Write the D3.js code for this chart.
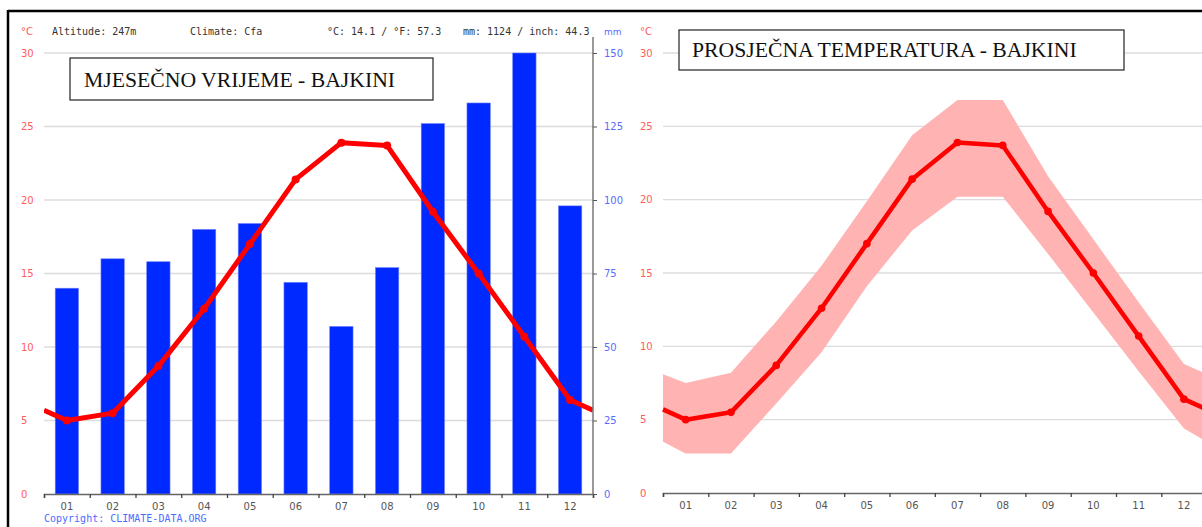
<!DOCTYPE html>
<html>
<head>
  <meta charset="utf-8" />
  <title>Bajkini</title>
  <script src="https://d3js.org/d3.v7.min.js"></script>
  <style>
    body { margin: 0; background: #fff; }
    svg { display: block; }
  </style>
</head>
<body>
  <script>
    // podaci očitani s grafa
    const months = ["01", "02", "03", "04", "05", "06", "07", "08", "09", "10", "11", "12"];
    const precip = [70, 80, 79, 90, 92, 72, 57, 77, 126, 133, 150, 98];
    const temp = [5.0, 5.5, 8.7, 12.6, 17.0, 21.4, 23.9, 23.7, 19.2, 15.0, 10.7, 6.4];
    const tempHigh = [7.5, 8.2, 11.7, 15.5, 19.9, 24.4, 26.8, 26.8, 21.6, 17.3, 13.0, 8.8];
    const tempLow = [2.7, 2.7, 6.1, 9.6, 14.1, 17.9, 20.2, 20.2, 16.3, 12.3, 8.3, 4.4];
    // vrijednosti na rubovima (prosinac/siječanj)
    const edgeTemp = 5.7, edgeHigh = 8.1, edgeLow = 3.5;
    const tempTicks = [0, 5, 10, 15, 20, 25, 30];
    const precipTicks = [0, 25, 50, 75, 100, 125, 150];
    const headerTexts = ["Altitude: 247m", "Climate: Cfa", "°C: 14.1 / °F: 57.3", "mm: 1124 / inch: 44.3"];
    const title1 = "MJESEČNO VRIJEME - BAJKINI";
    const title2 = "PROSJEČNA TEMPERATURA - BAJKINI";

    const width = 1202, height = 527;
    const svg = d3.select("body").append("svg")
      .attr("width", width)
      .attr("height", height);

    const tickFont = "DejaVu Sans, Verdana, sans-serif";
    const monoFont = "DejaVu Sans Mono, monospace";

    // pomoćna funkcija za liniju s rubnim točkama
    function edgeSeries(vals, edge, xs, x0, x1) {
      let arr = [{ x: x0, v: edge }];
      vals.forEach((v, i) => arr.push({ x: xs(months[i]) + xs.bandwidth() / 2, v: v }));
      arr.push({ x: x1, v: edge });
      return arr;
    }

    // ---------- lijevi graf ----------
    const L = { x0: 44, x1: 593, y0: 494, y1: 53 };
    const xL = d3.scaleBand().domain(months).range([L.x0, L.x1]);
    const yT = d3.scaleLinear().domain([0, 30]).range([L.y0, L.y1]);
    const yP = d3.scaleLinear().domain([0, 150]).range([L.y0, L.y1]);

    const gL = svg.append("g");
    gL.selectAll("line.grid")
      .data(tempTicks.slice(1))
      .enter().append("line")
      .attr("class", "grid")
      .attr("x1", L.x0).attr("x2", L.x1)
      .attr("y1", d => yT(d)).attr("y2", d => yT(d))
      .style("stroke", "#dcdcdc").style("stroke-width", 1.3);

    gL.selectAll("rect.bar")
      .data(precip)
      .enter().append("rect")
      .attr("class", "bar")
      .attr("x", (d, i) => xL(months[i]) + xL.bandwidth() * 0.245)
      .attr("width", xL.bandwidth() * 0.51)
      .attr("y", d => yP(d))
      .attr("height", d => L.y0 - yP(d))
      .attr("fill", "#0029ff")
      .style("stroke", "#6f80ff").style("stroke-width", 0.6);

    const clipL = svg.append("clipPath").attr("id", "clipL");
    clipL.append("rect").attr("x", L.x0).attr("y", 0).attr("width", L.x1 - L.x0).attr("height", height);

    const tempL = edgeSeries(temp, edgeTemp, xL, L.x0, L.x1);
    const lineL = d3.line().x(d => d.x).y(d => yT(d.v));
    gL.append("path")
      .datum(tempL)
      .attr("d", lineL)
      .attr("clip-path", "url(#clipL)")
      .style("fill", "none").style("stroke", "#ff0000")
      .style("stroke-width", 5).style("stroke-linejoin", "round");
    gL.selectAll("circle.pt")
      .data(temp)
      .enter().append("circle")
      .attr("class", "pt")
      .attr("cx", (d, i) => xL(months[i]) + xL.bandwidth() / 2)
      .attr("cy", d => yT(d))
      .attr("r", 4)
      .attr("fill", "#ff0000");

    // osi lijevog grafa
    const axL = gL.append("g")
      .attr("transform", `translate(0, ${L.y0})`)
      .call(d3.axisBottom(d3.scaleLinear().domain([0, 12]).range([L.x0, L.x1]))
        .ticks(12).tickSize(4).tickSizeOuter(4).tickFormat(""));
    axL.select(".domain").style("stroke", "#666").style("stroke-width", 1.5);
    axL.selectAll(".tick line").style("stroke", "#444").style("stroke-width", 1.3);

    const labL = gL.append("g")
      .attr("transform", `translate(0, ${L.y0})`)
      .call(d3.axisBottom(xL).tickSize(0).tickPadding(9));
    labL.select(".domain").remove();
    labL.selectAll("text").style("font-family", tickFont).style("font-size", "10px").style("fill", "#555");

    const tL = gL.append("g")
      .attr("transform", "translate(21, 0)")
      .call(d3.axisRight(yT).tickValues(tempTicks).tickSize(0).tickPadding(0));
    tL.select(".domain").remove();
    tL.selectAll("text").style("font-family", tickFont).style("font-size", "10px").style("fill", "#ff5c5c");

    gL.append("line")
      .attr("x1", L.x1).attr("x2", L.x1).attr("y1", 37).attr("y2", L.y0)
      .style("stroke", "#777").style("stroke-width", 1.5);
    const pR = gL.append("g")
      .attr("transform", `translate(${L.x1}, 0)`)
      .call(d3.axisRight(yP).tickValues(precipTicks).tickSize(4).tickPadding(7));
    pR.select(".domain").remove();
    pR.selectAll(".tick line").style("stroke", "#555");
    pR.selectAll("text").style("font-family", tickFont).style("font-size", "10px").style("fill", "#5c6bff");

    gL.append("text").attr("x", 21).attr("y", 35).text("°C")
      .style("font-family", tickFont).style("font-size", "10px").style("fill", "#ff5c5c");
    gL.append("text").attr("x", 604).attr("y", 35).text("mm")
      .style("font-family", tickFont).style("font-size", "9px").style("fill", "#5c6bff");

    const headerX = [52, 190, 327, 463];
    gL.selectAll("text.hdr")
      .data(headerTexts)
      .enter().append("text")
      .attr("class", "hdr")
      .attr("x", (d, i) => headerX[i]).attr("y", 35)
      .text(d => d)
      .style("font-family", monoFont).style("font-size", "10px").style("fill", "#333");

    gL.append("text").attr("x", 44).attr("y", 522).text("Copyright: CLIMATE-DATA.ORG")
      .style("font-family", monoFont).style("font-size", "10px").style("fill", "#4d6bff");

    // ---------- desni graf ----------
    const R = { x0: 663, bw: 45.3, y0: 493, y1: 53 };
    R.x1 = R.x0 + 12 * R.bw;
    const xR = d3.scaleBand().domain(months).range([R.x0, R.x1]);
    const yR = d3.scaleLinear().domain([0, 30]).range([R.y0, R.y1]);

    const gR = svg.append("g");
    gR.selectAll("line.grid")
      .data(tempTicks.slice(1))
      .enter().append("line")
      .attr("class", "grid")
      .attr("x1", R.x0).attr("x2", R.x1)
      .attr("y1", d => yR(d)).attr("y2", d => yR(d))
      .style("stroke", "#dcdcdc").style("stroke-width", 1.3);

    const hi = edgeSeries(tempHigh, edgeHigh, xR, R.x0, R.x1);
    const lo = edgeSeries(tempLow, edgeLow, xR, R.x0, R.x1);
    const bandData = hi.map((d, i) => ({ x: d.x, h: d.v, l: lo[i].v }));
    gR.append("path")
      .datum(bandData)
      .attr("d", d3.area().x(d => d.x).y0(d => yR(d.l)).y1(d => yR(d.h)))
      .style("fill", "#ffb3b3");

    const tempR = edgeSeries(temp, edgeTemp, xR, R.x0, R.x1);
    gR.append("path")
      .datum(tempR)
      .attr("d", d3.line().x(d => d.x).y(d => yR(d.v)))
      .style("fill", "none").style("stroke", "#ff0000")
      .style("stroke-width", 4.5).style("stroke-linejoin", "round");
    gR.selectAll("circle.pt")
      .data(temp)
      .enter().append("circle")
      .attr("class", "pt")
      .attr("cx", (d, i) => xR(months[i]) + xR.bandwidth() / 2)
      .attr("cy", d => yR(d))
      .attr("r", 3.8)
      .attr("fill", "#ff0000");

    const axR = gR.append("g")
      .attr("transform", `translate(0, ${R.y0})`)
      .call(d3.axisBottom(d3.scaleLinear().domain([0, 12]).range([R.x0, R.x1]))
        .ticks(12).tickSize(4).tickSizeOuter(4).tickFormat(""));
    axR.select(".domain").style("stroke", "#666").style("stroke-width", 1.5);
    axR.selectAll(".tick line").style("stroke", "#444").style("stroke-width", 1.3);

    const labR = gR.append("g")
      .attr("transform", `translate(0, ${R.y0})`)
      .call(d3.axisBottom(xR).tickSize(0).tickPadding(9));
    labR.select(".domain").remove();
    labR.selectAll("text").style("font-family", tickFont).style("font-size", "10px").style("fill", "#555");

    const tR = gR.append("g")
      .attr("transform", "translate(640, 0)")
      .call(d3.axisRight(yR).tickValues(tempTicks).tickSize(0).tickPadding(0));
    tR.select(".domain").remove();
    tR.selectAll("text").style("font-family", tickFont).style("font-size", "10px").style("fill", "#ff5c5c");

    gR.append("text").attr("x", 640).attr("y", 35).text("°C")
      .style("font-family", tickFont).style("font-size", "10px").style("fill", "#ff5c5c");

    // ---------- naslovi ----------
    const titles = [
      { t: title1, bx: 70, by: 58, bw: 363, bh: 42, tx: 84, ty: 87 },
      { t: title2, bx: 679, by: 30, bw: 445, bh: 40, tx: 692, ty: 57 }
    ];
    titles.forEach(d => {
      svg.append("rect")
        .attr("x", d.bx).attr("y", d.by).attr("width", d.bw).attr("height", d.bh)
        .style("fill", "#fff").style("stroke", "#222").style("stroke-width", 1.2);
      svg.append("text")
        .attr("x", d.tx).attr("y", d.ty).text(d.t)
        .style("font-family", "Liberation Serif, Times New Roman, serif")
        .style("font-size", "21.7px").style("fill", "#111");
    });

    // okvir
    svg.append("line").attr("x1", 8).attr("x2", width).attr("y1", 11).attr("y2", 11)
      .style("stroke", "#000").style("stroke-width", 2.5);
    svg.append("line").attr("x1", 8).attr("x2", 8).attr("y1", 10).attr("y2", height)
      .style("stroke", "#000").style("stroke-width", 2.5);
  </script>
</body>
</html>
